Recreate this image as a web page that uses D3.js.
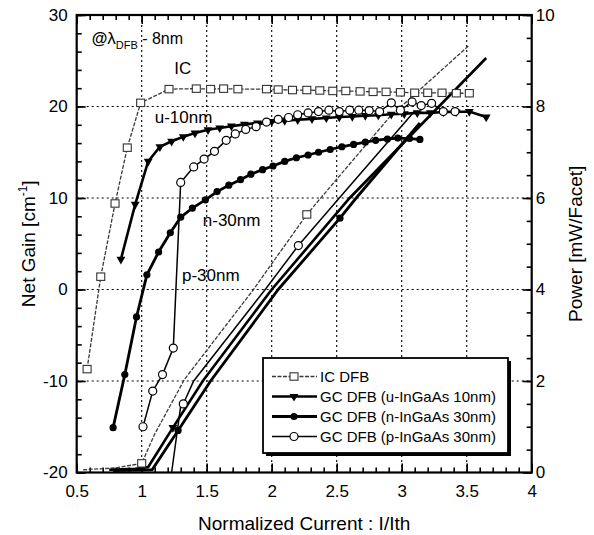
<!DOCTYPE html>
<html><head><meta charset="utf-8">
<script src="https://cdn.jsdelivr.net/npm/d3@7"></script>
<style>
body{margin:0;background:#fff}
text{font-family:"Liberation Sans",Arial,Helvetica,sans-serif;fill:#000}
</style>
</head><body>
<svg id="chart" width="594" height="535"></svg>
<script>
// ---------------- DATA ----------------
// Net gain curves [cm-1] vs normalized current I/Ith
const icGainX  = [0.58,0.685,0.795,0.889,0.992,1.21,1.42,1.53,1.63,1.74,1.96,2.05,2.16,2.27,2.37,2.47,2.57,2.68,2.78,2.88,2.99,3.10,3.20,3.31,3.42,3.52];
const icGainY  = [-8.7,1.4,9.4,15.5,20.4,21.9,21.95,21.9,21.95,21.9,21.9,21.85,21.8,21.8,21.75,21.7,21.7,21.65,21.6,21.6,21.55,21.5,21.5,21.5,21.45,21.45];

const uGainX   = [0.84,0.95,1.05,1.14,1.23,1.32,1.41,1.51,1.60,1.69,1.79,1.89,2.00,2.10,2.20,2.31,2.42,2.52,2.62,2.72,2.82,2.92,3.02,3.12,3.22,3.32,3.42,3.52,3.65];
const uGainY   = [3.3,9.3,14.0,15.6,16.2,16.7,17.1,17.45,17.65,17.85,18.05,18.2,18.35,18.45,18.55,18.65,18.75,18.85,18.9,19.0,19.05,19.15,19.2,19.3,19.3,19.4,19.4,19.45,18.85];

const nGainX   = [0.78,0.87,0.96,1.04,1.13,1.22,1.30,1.39,1.49,1.58,1.67,1.76,1.84,1.93,2.01,2.10,2.19,2.28,2.36,2.45,2.54,2.63,2.72,2.80,2.89,2.97,3.06,3.14];
const nGainY   = [-15.1,-9.3,-3.0,1.6,4.1,6.2,7.9,8.9,9.8,10.7,11.4,12.0,12.6,13.1,13.5,14.0,14.4,14.7,15.0,15.3,15.6,15.85,16.1,16.3,16.45,16.55,16.5,16.4];

const pGainX   = [1.01,1.085,1.16,1.243,1.30,1.40,1.48,1.56,1.65,1.72,1.80,1.88,1.96,2.05,2.13,2.20,2.28,2.36,2.44,2.52,2.60,2.67,2.75,2.83,2.92,2.99,3.08,3.15,3.23,3.32,3.41];
const pGainY   = [-15.0,-11.1,-9.3,-6.4,11.7,13.4,14.25,15.1,16.3,17.0,17.5,17.8,18.3,18.6,18.8,19.1,19.3,19.45,19.6,19.45,19.6,19.6,19.55,19.45,20.4,19.6,20.5,20.1,20.35,19.45,19.45];

// Output power curves [mW/Facet] vs normalized current
const icPowerX = [0.55,0.8,1.0,1.1,1.33,1.86,2.27,2.91,3.52];
const icPowerY = [0.06,0.1,0.2,0.84,2.04,4.0,5.64,7.78,9.34];
const icPowerMarks = [2,6];

const uPowerX  = [0.75,0.95,1.05,1.24,1.47,2.0,2.6,3.65];
const uPowerY  = [0.06,0.08,0.12,0.98,2.0,4.0,6.0,9.06];
const uPowerMarks = [3];

const nPowerX  = [0.78,1.08,1.28,1.53,2.05,2.525,2.65,3.14];
const nPowerY  = [0.04,0.06,0.92,2.0,4.0,5.56,6.0,7.64];
const nPowerMarks = [2,5];

const pPowerX  = [1.23,1.30,1.32,1.40,1.95,2.205,2.52,3.1];
const pPowerY  = [0.0,1.45,1.5,2.0,4.0,4.96,6.0,7.9];
const pPowerMarks = [2,5];

// Axes ticks
const xTicks      = [0.5,1,1.5,2,2.5,3,3.5,4];
const gainTicks   = [-20,-10,0,10,20,30];
const powerTicks  = [0,2,4,6,8,10];

// Legend
const legendLabels = ["IC DFB","GC DFB (u-InGaAs 10nm)","GC DFB (n-InGaAs 30nm)","GC DFB (p-InGaAs 30nm)"];

// Curve annotations [text, x, y(gain)]
const curveLabels = [["IC",1.25,23.5],["u-10nm",1.10,18.2],["n-30nm",1.47,6.9],["p-30nm",1.31,0.9]];

// ---------------- CHART ----------------
const svg = d3.select("#chart");
const L = 76.7, R = 531.7, T = 15, B = 472.5;
const x  = d3.scaleLinear().domain([0.5,4]).range([L,R]);
const yG = d3.scaleLinear().domain([-20,30]).range([B,T]);
const yP = d3.scaleLinear().domain([0,10]).range([B,T]);

const fmt = d => String(d3.format("~g")(d)).replace("\u2212","-");

// grid
const grid = svg.append("g").attr("stroke","#000").attr("stroke-width",1.1).attr("stroke-dasharray","2,3");
xTicks.slice(1,-1).forEach(v=>grid.append("line").attr("x1",x(v)).attr("x2",x(v)).attr("y1",T).attr("y2",B));
gainTicks.slice(1,-1).forEach(v=>grid.append("line").attr("x1",L).attr("x2",R).attr("y1",yG(v)).attr("y2",yG(v)));

// axes
function styleAxis(g){g.select(".domain").remove();g.selectAll("line").attr("stroke","#000").attr("stroke-width",1.6);g.selectAll("text").attr("font-size",17).attr("font-family","Liberation Sans, Arial, sans-serif");}
const minorX = d3.range(5,41).map(d=>d/10);
svg.append("g").attr("transform",`translate(0,${B})`).call(d3.axisBottom(x).tickValues(minorX).tickSize(-5).tickFormat("")).call(styleAxis);
svg.append("g").attr("transform",`translate(0,${B})`).call(d3.axisBottom(x).tickValues(xTicks).tickSize(-9).tickPadding(12).tickFormat(fmt)).call(styleAxis);
svg.append("g").attr("transform",`translate(0,${T})`).call(d3.axisTop(x).tickValues(minorX).tickSize(-5).tickFormat("")).call(styleAxis);
svg.append("g").attr("transform",`translate(0,${T})`).call(d3.axisTop(x).tickValues(xTicks).tickSize(-9).tickFormat("")).call(styleAxis);
svg.append("g").attr("transform",`translate(${L},0)`).call(d3.axisLeft(yG).tickValues(d3.range(-20,31,2)).tickSize(-5).tickFormat("")).call(styleAxis);
svg.append("g").attr("transform",`translate(${L},0)`).call(d3.axisLeft(yG).tickValues(gainTicks).tickSize(-9).tickPadding(9).tickFormat(fmt)).call(styleAxis);
svg.append("g").attr("transform",`translate(${R},0)`).call(d3.axisRight(yP).tickValues(d3.range(0,10.01,0.5)).tickSize(-5).tickFormat("")).call(styleAxis);
svg.append("g").attr("transform",`translate(${R},0)`).call(d3.axisRight(yP).tickValues(powerTicks).tickSize(-9).tickPadding(4).tickFormat(fmt)).call(styleAxis);

// frame
svg.append("rect").attr("x",L).attr("y",T).attr("width",R-L).attr("height",B-T).attr("fill","none").attr("stroke","#000").attr("stroke-width",2.2);

// axis titles
svg.append("text").attr("x",(L+R)/2).attr("y",530).attr("text-anchor","middle").attr("font-size",19).text("Normalized Current : I/Ith");
const lt = svg.append("text").attr("transform",`translate(35,${(T+B)/2}) rotate(-90)`).attr("text-anchor","middle").attr("font-size",19);
lt.append("tspan").text("Net Gain [cm");
lt.append("tspan").attr("font-size",12).attr("dy",-8).text("-1");
lt.append("tspan").attr("dy",8).text("]");
svg.append("text").attr("transform",`translate(582,${(T+B)/2}) rotate(-90)`).attr("text-anchor","middle").attr("font-size",19).text("Power [mW/Facet]");

// series styles
const series = [
  {gx:icGainX,gy:icGainY,px:icPowerX,py:icPowerY,pm:icPowerMarks,stroke:"#3a3a3a",w:1.3,dash:"4,1.5",marker:"square"},
  {gx:uGainX,gy:uGainY,px:uPowerX,py:uPowerY,pm:uPowerMarks,stroke:"#000",w:2.6,dash:null,marker:"triangle"},
  {gx:nGainX,gy:nGainY,px:nPowerX,py:nPowerY,pm:nPowerMarks,stroke:"#000",w:2.8,dash:null,marker:"fcircle"},
  {gx:pGainX,gy:pGainY,px:pPowerX,py:pPowerY,pm:pPowerMarks,stroke:"#000",w:1.5,dash:null,marker:"ocircle"}
];

function drawMarker(g,type,cx,cy){
  if(type==="square") g.append("rect").attr("x",cx-4).attr("y",cy-3.7).attr("width",8).attr("height",7.4).attr("fill","#fff").attr("stroke","#333").attr("stroke-width",1.1);
  else if(type==="triangle") g.append("path").attr("d",d3.symbol().type(d3.symbolTriangle).size(34)()).attr("transform",`translate(${cx},${cy}) rotate(180)`).attr("fill","#000");
  else if(type==="fcircle") g.append("circle").attr("cx",cx).attr("cy",cy).attr("r",3.6).attr("fill","#000");
  else g.append("circle").attr("cx",cx).attr("cy",cy).attr("r",4).attr("fill","#fff").attr("stroke","#000").attr("stroke-width",1.2);
}

const lineG = d3.line().x(d=>x(d[0])).y(d=>yG(d[1]));
const lineP = d3.line().x(d=>x(d[0])).y(d=>yP(d[1]));
const plot = svg.append("g");

// power lines
series.forEach(s=>{
  const pts = s.px.map((v,i)=>[v,s.py[i]]);
  plot.append("path").attr("d",lineP(pts)).attr("fill","none").attr("stroke",s.stroke).attr("stroke-width",s.w).attr("stroke-dasharray",s.dash);
});
// gain lines
series.forEach(s=>{
  const pts = s.gx.map((v,i)=>[v,s.gy[i]]);
  plot.append("path").attr("d",lineG(pts)).attr("fill","none").attr("stroke",s.stroke).attr("stroke-width",s.w).attr("stroke-dasharray",s.dash);
});
// markers
series.forEach(s=>{
  const g = plot.append("g");
  s.gx.forEach((v,i)=>drawMarker(g,s.marker,x(v),yG(s.gy[i])));
  s.pm.forEach(i=>drawMarker(g,s.marker,x(s.px[i]),yP(s.py[i])));
});

// curve labels
curveLabels.forEach(([t,vx,vy])=>svg.append("text").attr("x",x(vx)).attr("y",yG(vy)).attr("font-size",17).text(t));

// wavelength annotation
const ann = svg.append("text").attr("x",x(0.615)).attr("y",yG(26.8)).attr("font-size",16);
ann.append("tspan").attr("font-weight","bold").text("@");
ann.append("tspan").attr("font-size",17).text("\u03bb");
ann.append("tspan").attr("font-size",11).attr("dy",5).text("DFB");
ann.append("tspan").attr("dy",-5).text(" - 8nm");

// legend
const lg = svg.append("g").attr("transform","translate(263,358)");
const lw = 245, lh = 95;
lg.append("rect").attr("x",3).attr("y",3).attr("width",lw).attr("height",lh).attr("fill","#000");
lg.append("rect").attr("x",0).attr("y",0).attr("width",lw).attr("height",lh).attr("fill","#fff").attr("stroke","#000").attr("stroke-width",1.8);
legendLabels.forEach((t,i)=>{
  const s = series[i];
  const yy = 18.5 + i*20;
  lg.append("line").attr("x1",9).attr("x2",54).attr("y1",yy).attr("y2",yy).attr("stroke",s.stroke).attr("stroke-width",s.w).attr("stroke-dasharray",s.dash);
  drawMarker(lg,s.marker,31,yy);
  lg.append("text").attr("x",57).attr("y",yy+5.5).attr("font-size",15).text(t);
});
</script>
</body></html>
